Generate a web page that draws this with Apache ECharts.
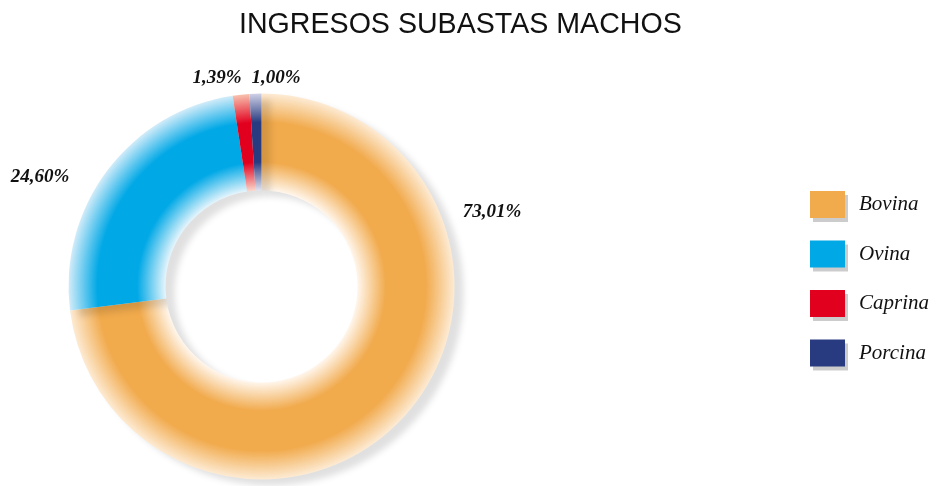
<!DOCTYPE html>
<html><head><meta charset="utf-8">
<script src="https://cdn.jsdelivr.net/npm/echarts@6/dist/echarts.min.js"></script>
<style>html,body{margin:0;padding:0;background:#fff}#c{width:935px;height:486px}</style>
</head><body><div id="c"></div>
<script>
const categories = ['Bovina', 'Ovina', 'Caprina', 'Porcina'];
const values = [73.01, 24.60, 1.39, 1.00];
const labelsText = ['73,01%', '24,60%', '1,39%', '1,00%'];

const solidColors = ['#F1AA4C', '#00A8E6', '#E2001F', '#283B80'];
const innerLight = ['#FFF6EC', '#E6F5FC', '#FBD9CC', '#E2E3F0'];
const outerLight = ['#FDEBD4', '#D2ECF9', '#F8C2AE', '#CFD1E6'];
const labelPos = [[492, 212], [40, 177], [217, 78], [276, 78]];

const cx = 261.5, cy = 286.5, rIn = 96, rOut = 193;

function grad(i) {
  return {
    type: 'radial', x: cx, y: cy, r: rOut, global: true,
    colorStops: [
      { offset: rIn / rOut, color: innerLight[i] },
      { offset: 0.645, color: solidColors[i] },
      { offset: 0.85, color: solidColors[i] },
      { offset: 1.0, color: outerLight[i] }
    ]
  };
}

const chart = echarts.init(document.getElementById('c'), null, { renderer: 'canvas' });
chart.setOption({
  animation: false,
  title: {
    text: 'INGRESOS SUBASTAS MACHOS', left: 234, top: 6,
    textStyle: { fontFamily: 'Liberation Sans', fontSize: 28.6, fontWeight: 'normal', color: '#111' }
  },
  legend: {
    orient: 'vertical', left: 810, top: 191, padding: 0,
    itemWidth: 35, itemHeight: 27, itemGap: 22.5,
    icon: 'rect',
    textStyle: { fontFamily: 'Liberation Serif', fontStyle: 'italic', fontSize: 21, color: '#111', padding: [5, 0, 0, 9] },
    data: categories.map((c, i) => ({
      name: c,
      itemStyle: { color: solidColors[i], shadowColor: 'rgba(0,0,0,0.2)', shadowOffsetX: 3, shadowOffsetY: 4, shadowBlur: 0 }
    }))
  },
  series: [{
    type: 'pie',
    center: [cx, cy],
    radius: [rIn, rOut],
    startAngle: 90,
    clockwise: true,
    avoidLabelOverlap: false,
    itemStyle: {
      shadowColor: 'rgba(0,0,0,0.12)', shadowBlur: 6, shadowOffsetX: 9, shadowOffsetY: 6
    },
    label: {
      show: true, position: 'outside',
      formatter: p => labelsText[p.dataIndex],
      fontFamily: 'Liberation Serif', fontStyle: 'italic', fontWeight: 'bold', fontSize: 19, color: '#111'
    },
    labelLine: { show: false },
    labelLayout: p => ({ x: labelPos[p.dataIndex][0], y: labelPos[p.dataIndex][1], align: 'center', verticalAlign: 'middle' }),
    emphasis: { disabled: true },
    data: categories.map((c, i) => ({ name: c, value: values[i], itemStyle: { color: grad(i) } }))
  }]
});
</script></body></html>
